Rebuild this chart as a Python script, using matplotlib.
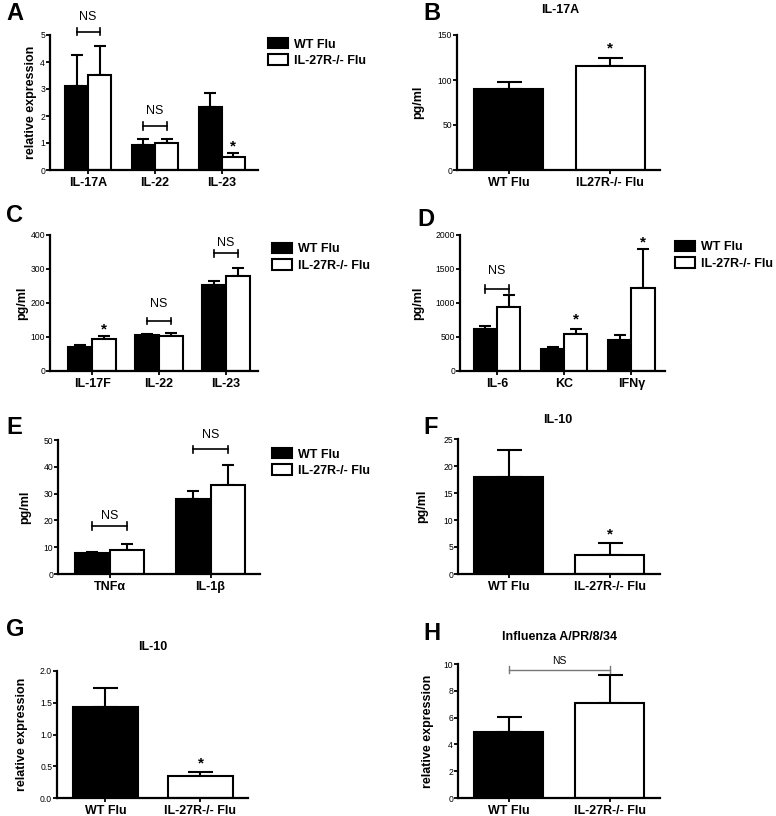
import matplotlib
matplotlib.use("Agg")
import matplotlib.pyplot as plt
from matplotlib.patches import Patch

plt.rcParams['font.family'] = ['Liberation Sans', 'DejaVu Sans']

# ---------------- data ----------------
legend_labels = ['WT Flu', 'IL-27R-/- Flu']

A_cats = ['IL-17A', 'IL-22', 'IL-23']
A_wt = [3.10, 0.93, 2.32]
A_wt_err = [1.16, 0.21, 0.52]
A_ko = [3.52, 0.99, 0.48]
A_ko_err = [1.08, 0.15, 0.16]

B_cats = ['WT Flu', 'IL27R-/- Flu']
B_vals = [89.5, 116.0]
B_err = [8.5, 8.0]

C_cats = ['IL-17F', 'IL-22', 'IL-23']
C_wt = [71, 106, 252]
C_wt_err = [4, 2, 12]
C_ko = [94, 103, 279]
C_ko_err = [8, 9, 23]

D_cats = ['IL-6', 'KC', 'IFNγ']
D_wt = [614, 324, 462]
D_wt_err = [45, 25, 68]
D_ko = [934, 540, 1219]
D_ko_err = [191, 84, 570]

E_cats = ['TNFα', 'IL-1β']
E_wt = [8.0, 27.9]
E_wt_err = [0.3, 3.1]
E_ko = [9.0, 33.1]
E_ko_err = [2.2, 7.6]

F_cats = ['WT Flu', 'IL-27R-/- Flu']
F_vals = [17.9, 3.5]
F_err = [5.1, 2.3]

G_cats = ['WT Flu', 'IL-27R-/- Flu']
G_vals = [1.44, 0.34]
G_err = [0.29, 0.07]

H_cats = ['WT Flu', 'IL-27R-/- Flu']
H_vals = [4.89, 7.07]
H_err = [1.19, 2.09]

# ---------------- figure ----------------
W, H = 776, 816
fig = plt.figure(figsize=(W / 100, H / 100), dpi=100)


def ax_at(x0, y0, x1, y1):
    ax = fig.add_axes([x0 / W, 1 - y1 / H, (x1 - x0) / W, (y1 - y0) / H])
    ax._px = (x0, x1)
    return ax


def style(ax, yticks, ylim, ylabel, label_x, ytickfmt=None):
    for s in ['top', 'right']:
        ax.spines[s].set_visible(False)
    for s in ['left', 'bottom']:
        ax.spines[s].set_linewidth(1.6)
    ax.set_ylim(*ylim)
    ax.set_yticks(yticks)
    if ytickfmt:
        ax.set_yticklabels([ytickfmt.format(t) for t in yticks])
    ax.tick_params(axis='y', direction='out', length=3, width=1.3, labelsize=6.2, pad=0.5)
    ax.tick_params(axis='x', direction='out', length=3, width=1.3, labelsize=9, pad=2)
    for lab in ax.get_xticklabels():
        lab.set_fontweight('bold')
    ax.set_ylabel(ylabel, fontsize=9, fontweight='bold', va='center')
    x0, x1 = ax._px
    ax.yaxis.set_label_coords((label_x - x0) / (x1 - x0), 0.5)


def grouped(ax, cats, wt, wt_err, ko, ko_err, width, cap):
    xs = list(range(len(cats)))
    xw = [x - width / 2 for x in xs]
    xk = [x + width / 2 for x in xs]
    ax.bar(xw, wt, width, color='black', edgecolor='black', linewidth=1.5, zorder=2)
    ax.bar(xk, ko, width, color='white', edgecolor='black', linewidth=1.5, zorder=2)
    ax.errorbar(xw, wt, yerr=[[0] * len(wt), wt_err], fmt='none', ecolor='black',
                elinewidth=1.5, capsize=cap, capthick=1.5, zorder=1)
    ax.errorbar(xk, ko, yerr=[[0] * len(ko), ko_err], fmt='none', ecolor='black',
                elinewidth=1.5, capsize=cap, capthick=1.5, zorder=1)
    ax.set_xticks(xs)
    ax.set_xticklabels(cats)
    return xw, xk


def pair(ax, cats, vals, err, width, cap):
    xs = [0, 1]
    ax.bar(xs, vals, width, color=['black', 'white'], edgecolor='black', linewidth=1.5, zorder=2)
    ax.errorbar(xs, vals, yerr=[[0, 0], err], fmt='none', ecolor='black',
                elinewidth=1.5, capsize=cap, capthick=1.5, zorder=1)
    ax.set_xticks(xs)
    ax.set_xticklabels(cats)
    return xs


def bracket(ax, x1, x2, y, h, text, ty, color='black', lw=1.2, fs=9):
    ax.plot([x1, x2], [y, y], color=color, lw=lw, clip_on=False)
    ax.plot([x1, x1], [y - h, y + h], color=color, lw=lw, clip_on=False)
    ax.plot([x2, x2], [y - h, y + h], color=color, lw=lw, clip_on=False)
    ax.text((x1 + x2) / 2, ty, text, ha='center', va='center', fontsize=fs, color='black', clip_on=False)


def star(ax, x, y):
    ax.text(x, y, '*', ha='center', va='center', fontsize=11, fontweight='bold', clip_on=False)


def legend(ax, x, y):
    handles = [Patch(facecolor='black', edgecolor='black', linewidth=1.5),
               Patch(facecolor='white', edgecolor='black', linewidth=1.5)]
    ax.legend(handles, legend_labels, loc='upper left', bbox_to_anchor=(x / W, 1 - y / H),
              bbox_transform=fig.transFigure, frameon=False,
              prop={'weight': 'bold', 'size': 9}, handlelength=1.6, handleheight=0.9,
              handletextpad=0.5, labelspacing=0.3, borderaxespad=0, borderpad=0)


def letter(x, y, t):
    fig.text(x / W, 1 - y / H, t, fontsize=17, fontweight='bold', ha='left', va='center')


def title(x, y, t):
    fig.text(x / W, 1 - y / H, t, fontsize=9, fontweight='bold', ha='center', va='center')


# ---- A ----
ax = ax_at(50, 35, 258, 170)
xw, xk = grouped(ax, A_cats, A_wt, A_wt_err, A_ko, A_ko_err, 0.345, 4.5)
ax.set_xlim(-0.57, 2.54)
style(ax, [0, 1, 2, 3, 4, 5], (0, 5), 'relative expression', 31)
bracket(ax, xw[0], xk[0], 5.12, 0.13, 'NS', 5.68)
bracket(ax, xw[1], xk[1], 1.63, 0.13, 'NS', 2.17)
star(ax, xk[2], 0.88)
legend(ax, 268, 38)
letter(6, 13, 'A')

# ---- B ----
ax = ax_at(457, 35, 660, 170)
xs = pair(ax, B_cats, B_vals, B_err, 0.68, 9)
ax.set_xlim(-0.51, 1.49)
style(ax, [0, 50, 100, 150], (0, 150), 'pg/ml', 418)
star(ax, xs[1], 135)
title(560, 10, 'IL-17A')
letter(423, 13, 'B')

# ---- C ----
ax = ax_at(50, 235, 258, 371)
xw, xk = grouped(ax, C_cats, C_wt, C_wt_err, C_ko, C_ko_err, 0.355, 4.5)
ax.set_xlim(-0.63, 2.48)
style(ax, [0, 100, 200, 300, 400], (0, 400), 'pg/ml', 22)
star(ax, xk[0], 122)
bracket(ax, xw[1], xk[1], 147, 10, 'NS', 196)
bracket(ax, xw[2], xk[2], 346, 10, 'NS', 375)
legend(ax, 272, 243)
letter(6, 215, 'C')

# ---- D ----
ax = ax_at(460, 235, 665, 371)
xw, xk = grouped(ax, D_cats, D_wt, D_wt_err, D_ko, D_ko_err, 0.345, 4.5)
ax.set_xlim(-0.55, 2.5)
style(ax, [0, 500, 1000, 1500, 2000], (0, 2000), 'pg/ml', 418)
bracket(ax, xw[0], xk[0], 1204, 55, 'NS', 1475)
star(ax, xk[1], 760)
star(ax, xk[2], 1890)
legend(ax, 675, 241)
letter(417, 220, 'D')

# ---- E ----
ax = ax_at(58, 440, 260, 574)
xw, xk = grouped(ax, E_cats, E_wt, E_wt_err, E_ko, E_ko_err, 0.345, 4.5)
ax.set_xlim(-0.51, 1.49)
style(ax, [0, 10, 20, 30, 40, 50], (0, 50), 'pg/ml', 25)
bracket(ax, xw[0], xk[0], 17.9, 1.4, 'NS', 21.5)
bracket(ax, xw[1], xk[1], 46.5, 1.4, 'NS', 51.9)
legend(ax, 272, 448)
letter(6, 427, 'E')

# ---- F ----
ax = ax_at(458, 439, 660, 574)
xs = pair(ax, F_cats, F_vals, F_err, 0.68, 9)
ax.set_xlim(-0.5, 1.5)
style(ax, [0, 5, 10, 15, 20, 25], (0, 25), 'pg/ml', 422)
star(ax, xs[1], 7.3)
title(558, 420, 'IL-10')
letter(423, 427, 'F')

# ---- G ----
ax = ax_at(57, 671, 248, 798)
xs = pair(ax, G_cats, G_vals, G_err, 0.69, 9)
ax.set_xlim(-0.51, 1.5)
style(ax, [0, 0.5, 1.0, 1.5, 2.0], (0, 2.0), 'relative expression', 22, '{:.1f}')
star(ax, xs[1], 0.55)
title(153, 647, 'IL-10')
letter(6, 630, 'G')

# ---- H ----
ax = ax_at(458, 664, 660, 798)
xs = pair(ax, H_cats, H_vals, H_err, 0.68, 9)
ax.set_xlim(-0.5, 1.5)
style(ax, [0, 2, 4, 6, 8, 10], (0, 10), 'relative expression', 428)
bracket(ax, xs[0], xs[1], 9.58, 0.25, 'NS', 10.25, color='#777777', lw=1.0, fs=7.5)
title(560, 637, 'Influenza A/PR/8/34')
letter(423, 633, 'H')

fig.savefig('out.png', dpi=100)
